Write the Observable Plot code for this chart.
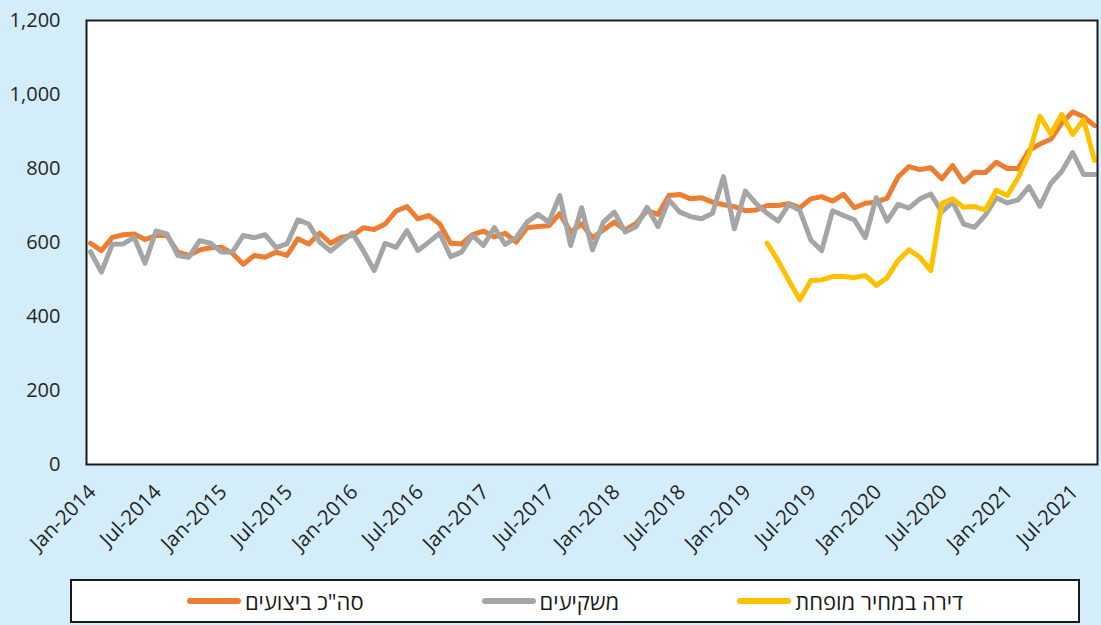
<!DOCTYPE html>
<html><head><meta charset="utf-8">
<script src="https://cdn.jsdelivr.net/npm/d3@7"></script>
<script src="https://cdn.jsdelivr.net/npm/@observablehq/plot@0.6"></script>
<style>
html,body{margin:0;padding:0;background:#d4edfa;}
body{width:1101px;height:625px;overflow:hidden;position:relative;font-family:"Open Sans","Liberation Sans","DejaVu Sans",sans-serif;}
#chart{position:absolute;left:0;top:0;}
#legend{position:absolute;left:70px;top:579px;width:1010px;height:44px;box-sizing:border-box;border:2px solid #1a1a1a;background:#fff;display:flex;justify-content:center;align-items:center;gap:118px;}
.item{display:flex;align-items:center;gap:4px;}
.sw{width:54px;height:6px;border-radius:3px;}
.lbl{direction:rtl;font-size:22px;color:#1a1a1a;line-height:1;}
</style></head><body>
<div id="chart"></div><div id="legend"></div>
<script>
// Categories: monthly, Jan-2014 .. Sep-2021
const monthNames = ["Jan","Feb","Mar","Apr","May","Jun","Jul","Aug","Sep","Oct","Nov","Dec"];
const firstYear = 2014;
const monthCount = 93;
const months = d3.range(monthCount).map(i => `${monthNames[i % 12]}-${firstYear + Math.floor(i / 12)}`);
const tickMonths = months.filter(m => m.startsWith("Jan") || m.startsWith("Jul"));
const yTicks = [0, 200, 400, 600, 800, 1000, 1200];

// Series names
const seriesNames = ["סה\"כ ביצועים", "משקיעים", "דירה במחיר מופחת"];
const seriesColors = ["#ED7D31", "#A5A5A5", "#FFC000"];

// Total transactions (Jan-2014 .. Sep-2021)
const totalValues = [
  598,578,614,621,623,608,619,619,574,565,580,586,
  587,571,541,565,560,574,565,610,596,625,598,614,
  619,640,635,650,685,697,664,673,650,598,596,621,
  631,615,625,601,640,643,645,678,628,650,613,634,
  655,634,652,686,676,727,730,718,721,709,702,697,
  686,688,700,700,705,694,718,724,712,730,694,706,
  709,720,777,805,797,802,772,808,764,790,789,817,
  800,800,849,866,879,923,953,940,916
];
// Investors (Jan-2014 .. Sep-2021)
const investorValues = [
  575,520,595,596,614,544,631,623,565,560,605,598,
  574,574,619,613,621,586,596,661,650,601,577,601,
  626,578,524,598,587,632,578,601,625,562,574,619,
  592,640,595,613,655,676,655,727,592,694,580,655,
  682,628,643,695,643,715,682,670,664,679,778,637,
  739,705,679,658,703,686,607,578,686,673,661,613,
  721,658,703,693,718,731,683,710,650,641,674,721,
  707,715,751,698,760,792,843,784,784
];
// Discounted-price apartments (Mar-2019 .. Sep-2021)
const discountedStart = "Mar-2019";
const discountedValues = [
  598,551,497,445,497,499,508,508,505,511,484,505,
  551,580,560,524,705,718,695,697,688,741,727,775,
  840,941,894,946,892,932,822
];

const toRows = (vals, startLabel) => {
  const s = months.indexOf(startLabel);
  return vals.map((v, k) => ({month: months[s + k], value: v}));
};
const totalRows = toRows(totalValues, "Jan-2014");
const investorRows = toRows(investorValues, "Jan-2014");
const discountedRows = toRows(discountedValues, discountedStart);

const lineOpts = (color) => ({x: "month", y: "value", stroke: color, strokeWidth: 5, strokeLinejoin: "round", strokeLinecap: "round"});

const chart = Plot.plot({
  width: 1101,
  height: 570,
  marginLeft: 86,
  marginRight: 4,
  marginTop: 20,
  marginBottom: 106,
  style: {background: "transparent", fontSize: "20px", fontFamily: "'Open Sans','Liberation Sans','DejaVu Sans',sans-serif", color: "#262626", overflow: "visible"},
  x: {type: "point", domain: months, padding: 0, insetLeft: 4, insetRight: 3},
  y: {domain: [0, 1200]},
  marks: [
    Plot.frame({fill: "white"}),
    Plot.axisY({ticks: yTicks, tickFormat: d3.format(","), tickSize: 0, tickPadding: 26, label: null}),
    Plot.axisX({ticks: tickMonths, tickSize: 0, tickRotate: -45, tickPadding: 4, dx: 2, dy: 20, fontSize: 20.5, label: null}),
    Plot.lineY(totalRows, lineOpts(seriesColors[0])),
    Plot.lineY(investorRows, lineOpts(seriesColors[1])),
    Plot.lineY(discountedRows, lineOpts(seriesColors[2])),
    Plot.frame({stroke: "#1a1a1a", strokeWidth: 2})
  ]
});
document.getElementById("chart").appendChild(chart);

const legend = document.getElementById("legend");
seriesNames.forEach((name, i) => {
  const item = document.createElement("div");
  item.className = "item";
  const sw = document.createElement("div");
  sw.className = "sw";
  sw.style.background = seriesColors[i];
  const lbl = document.createElement("span");
  lbl.className = "lbl";
  lbl.textContent = name;
  item.appendChild(sw);
  item.appendChild(lbl);
  legend.appendChild(item);
});
</script>
</body></html>
